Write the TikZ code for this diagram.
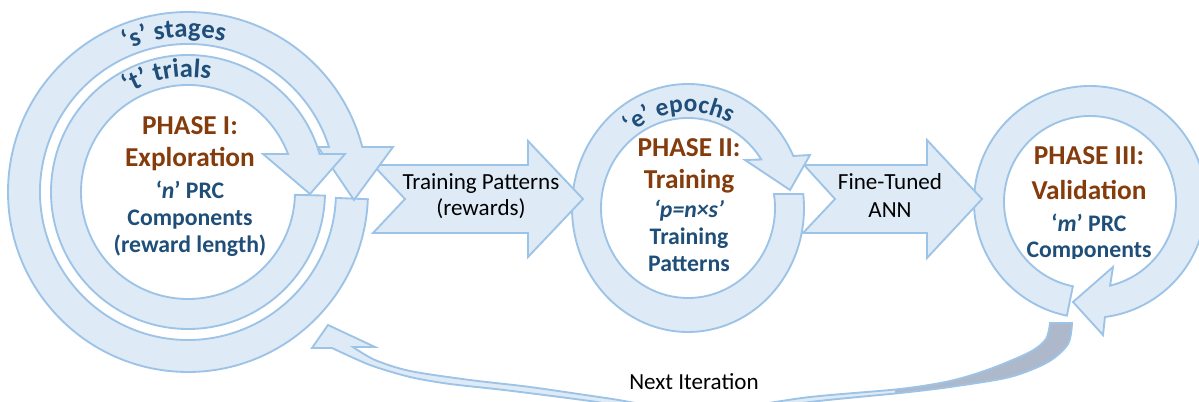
\documentclass[tikz,border=0pt]{standalone}
\usepackage{fontspec}
\setmainfont{Carlito}
\usetikzlibrary{decorations.text}
\definecolor{ringfill}{HTML}{DEEBF7}
\definecolor{ringline}{HTML}{9DC3E6}
\definecolor{titlebrown}{HTML}{843C0C}
\definecolor{labelblue}{HTML}{1F4E79}
\definecolor{ribbongray}{HTML}{ADB9CA}
% outline of the curved "next iteration" ribbon with its arrow head
\newcommand{\ribbonpath}{(312,54) -- (328,77) -- (375,55) -- (353,55)
  -- plot[smooth] coordinates {(353,55) (375,42) (410,31) (470,22) (530,15) (606,4) (700,-9) (810,5) (900,13) (950,21) (990,33) (1030,50) (1046,63) (1050,79)}
  -- (1072,79)
  -- plot[smooth] coordinates {(1072,79) (1068,58) (1048,40) (1010,25) (950,15) (900,9) (810,0) (700,-15) (590,1) (504,12) (450,18) (410,25) (370,37) (332,54)}
  -- cycle}
\begin{document}
\begin{tikzpicture}[x=0.75pt,y=0.75pt,
  blockshape/.style={fill=ringfill,draw=ringline,line width=1.4pt,line join=miter},
  title/.style={font=\fontsize{20.5}{24}\selectfont\bfseries,text=titlebrown,anchor=base,inner sep=0pt},
  body/.style={font=\fontsize{17.8}{21}\selectfont\bfseries,text=labelblue,anchor=base,inner sep=0pt},
  plain/.style={font=\fontsize{17.3}{20}\selectfont,text=black,anchor=base,inner sep=0pt},
  ringlabel/.style={decorate,decoration={text along path,text align=center,text color=labelblue}}]
\useasboundingbox (0,0) rectangle (1199,402);

% Phase III circular arrow
\begin{scope}[shift={(1090,200)}]
  \draw[blockshape] (-101.5:116) arc[start angle=-101.5,end angle=-442.6,radius=116]
    -- (13,-133) -- (-17,-100) -- (23,-65) -- (-76.5:86)
    arc[start angle=-436.5,end angle=-101.5,radius=86] -- cycle;
\end{scope}

% block arrow: Phase II -> Phase III
\draw[blockshape] (804,237) -- (927,237) -- (927,262) -- (982,203) -- (927,144) -- (927,169) -- (803,169) -- (835,203) -- cycle;

% Phase II circular arrow (elliptic)
\begin{scope}[shift={(688,194)}]
  \draw[blockshape] (6.5:116 and 124) arc[start angle=6.5,end angle=-335.2,x radius=116,y radius=124]
    -- (122,53) -- (102,18) -- (57,48) -- (32.6:87 and 90)
    arc[start angle=-327.4,end angle=8.9,x radius=87,y radius=90] -- cycle;
\end{scope}

% block arrow: Phase I -> Phase II
\draw[blockshape] (373,237) -- (528,237) -- (528,261) -- (583,203) -- (528,145) -- (528,169) -- (373,169) -- (405,203) -- cycle;

% Phase I: outer (stages) and inner (trials) circular arrows
\begin{scope}[shift={(188,210)}]
  \draw[blockshape] (-2.3:180) arc[start angle=-2.3,end angle=-345.52,radius=180]
    -- (205,45) -- (166,-8) -- (130,45) -- (17.7:148)
    arc[start angle=-342.3,end angle=-2.3,radius=148] -- cycle;
  \draw[blockshape] (-1.5:137) arc[start angle=-1.5,end angle=-343.9,radius=137]
    -- (157,38) -- (122,-2) -- (75,38) -- (20.8:107)
    arc[start angle=-339.2,end angle=-1.5,radius=107] -- cycle;
  \path[ringlabel,decoration={text={|\fontsize{20}{24}\selectfont\bfseries|‘s’ stages}}]
    (135:155) arc[start angle=135,end angle=55,radius=155];
  \path[ringlabel,decoration={text={|\fontsize{20}{24}\selectfont\bfseries|‘t’ trials}}]
    (150:115) arc[start angle=150,end angle=50,radius=115];
\end{scope}

% Phase II ring label
\begin{scope}[shift={(688,194)}]
  \path[ringlabel,decoration={text={|\fontsize{19}{23}\selectfont\bfseries|‘e’ epochs}}]
    (145.7:90 and 96) arc[start angle=145.7,end angle=45.7,x radius=90,y radius=96];
\end{scope}

% feedback ribbon
\fill[ringfill] \ribbonpath;
\begin{scope}
  \clip (895,-30) rectangle (1110,100);
  \fill[ribbongray] \ribbonpath;
\end{scope}
\draw[ringline,line width=1.4pt,line join=miter] \ribbonpath;

% texts of Phase I
\node[title] (p1a) at (190,267) {PHASE I:};
\node[title] (p1b) at (190,235) {Exploration};
\node[body]  (p1c) at (190,203) {‘\textit{n}’ PRC};
\node[body]  (p1d) at (190,176) {Components};
\node[body]  (p1e) at (190,149) {(reward length)};

% texts of Phase II
\node[title] (p2a) at (689,245) {PHASE II:};
\node[title] (p2b) at (689,213) {Training};
\node[body]  (p2c) at (689,184) {\itshape ‘p=n×s’};
\node[body]  (p2d) at (689,157) {Training};
\node[body]  (p2e) at (689,130) {Patterns};

% texts of Phase III
\node[title] (p3a) at (1089,237) {PHASE III:};
\node[title] (p3b) at (1089,202) {Validation};
\node[body]  (p3c) at (1089,170) {‘\textit{m}’ PRC};
\begin{scope}
  \clip (1000,143) rectangle (1180,168);
  \node[body] (p3d) at (1089,144) {Components};
\end{scope}

% arrow labels
\node[plain] (a1a) at (481,212) {Training Patterns};
\node[plain] (a1b) at (481,186) {(rewards)};
\node[plain] (a2a) at (890,212) {Fine-Tuned};
\node[plain] (a2b) at (890,184) {ANN};
\node[plain] (nxt) at (694,12) {Next Iteration};
\end{tikzpicture}
\end{document}
